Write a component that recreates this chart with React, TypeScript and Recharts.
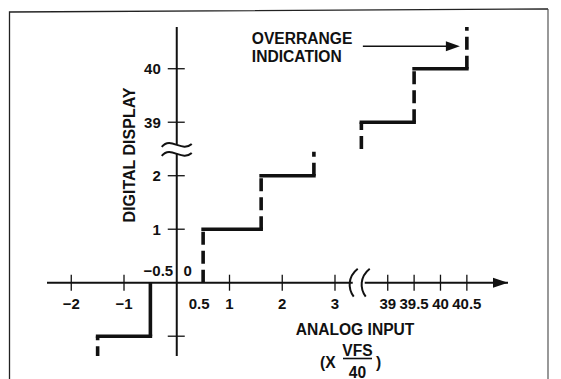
import React from "react";
import { ComposedChart, Line, XAxis, YAxis, ReferenceLine, ReferenceDot } from "recharts";

// axis ticks (real values)
const xTicks = [-2, -1, 1, 2, 3, 39, 39.5, 40, 40.5];
const yTicks = [1, 2, 39, 40];
const yBlankTicks = [-1];

// staircase: solid treads, dashed risers
const treads = [
  { y: -1, from: -1.5, to: -0.5 },
  { y: 1, from: 0.5, to: 1.6 },
  { y: 2, from: 1.6, to: 2.6 },
  { y: 39, from: 38.5, to: 39.5 },
  { y: 40, from: 39.5, to: 40.5 },
];
const solidRisers = [{ x: -0.5, from: -1, to: 0 }];
const risers = [
  { x: -1.5, from: -1, to: -1.37 },
  { x: 0.5, from: 0, to: 1 },
  { x: 1.6, from: 1, to: 2 },
  { x: 2.6, from: 2, to: 2.45 },
  { x: 38.5, from: 38.5, to: 39 },
  { x: 39.5, from: 39, to: 40 },
  { x: 40.5, from: 40, to: 40.8 },
];

// both axes are broken: values above 38 are shifted down next to the small ones
const sx = (v: number) => (v >= 38 ? v - 35 : v);
const sy = (v: number) => (v >= 38 ? v - 36 : v);
const X_DOMAIN: [number, number] = [-2.46, 6.28];
const Y_DOMAIN: [number, number] = [-1.37, 4.78];
const X_BREAK = 3.45;
const Y_BREAK = 2.5;

const fmt = (v: number) => (v < 0 ? `\u2212${Math.abs(v)}` : String(v));

const font = { fontFamily: "'Liberation Sans', Arial, sans-serif", fontWeight: 700, fill: "#111" };
const INK = "#111";

const XTick = ({ cx, cy, text }: any) => (
  <g>
    <line x1={cx} x2={cx} y1={cy - 8} y2={cy + 8} stroke={INK} strokeWidth={1.3} />
    {text && (
      <text x={cx} y={cy + 26} textAnchor="middle" fontSize={15} {...font}>
        {text}
      </text>
    )}
  </g>
);

const YTick = ({ cx, cy, text }: any) => (
  <g>
    <line x1={cx - 9} x2={cx + 8} y1={cy} y2={cy} stroke={INK} strokeWidth={1.3} />
    {text && (
      <text x={cx - 16} y={cy + 5.5} textAnchor="end" fontSize={15} {...font}>
        {text}
      </text>
    )}
  </g>
);

const YBreak = ({ cx, cy }: any) => (
  <g fill="none" stroke={INK} strokeWidth={2}>
    <rect x={cx - 4} y={cy - 4.5} width={8} height={9} fill="#fff" stroke="none" />
    <path d={`M${cx - 15} ${cy - 2} C${cx - 6} ${cy - 13} ${cx + 5} ${cy + 4} ${cx + 15} ${cy - 5}`} />
    <path d={`M${cx - 15} ${cy + 7} C${cx - 6} ${cy - 4} ${cx + 5} ${cy + 13} ${cx + 15} ${cy + 4}`} />
  </g>
);

const XBreak = ({ cx, cy }: any) => (
  <g fill="none" stroke={INK} strokeWidth={2}>
    <rect x={cx - 6} y={cy - 3} width={12} height={6} fill="#fff" stroke="none" />
    <path d={`M${cx - 1} ${cy - 14} C${cx - 11} ${cy - 6} ${cx - 11} ${cy + 6} ${cx - 5} ${cy + 14}`} />
    <path d={`M${cx + 11} ${cy - 14} C${cx + 1} ${cy - 6} ${cx + 1} ${cy + 6} ${cx + 7} ${cy + 14}`} />
  </g>
);

const AxisArrow = ({ cx, cy }: any) => (
  <polygon points={`${cx},${cy} ${cx - 15},${cy - 5} ${cx - 15},${cy + 5}`} fill={INK} />
);

const Overrange = ({ cx, cy }: any) => (
  <g>
    <line x1={cx - 104} x2={cx - 20} y1={cy} y2={cy} stroke={INK} strokeWidth={1.3} />
    <polygon points={`${cx - 7},${cy} ${cx - 21},${cy - 5} ${cx - 21},${cy + 5}`} fill={INK} />
    <text x={cx - 215} y={cy - 2} fontSize={15.6} {...font}>OVERRANGE</text>
    <text x={cx - 215} y={cy + 16} fontSize={15.6} {...font}>INDICATION</text>
  </g>
);

const TextAt = ({ cx, cy, text, dx, dy, anchor }: any) => (
  <text x={cx + dx} y={cy + dy} textAnchor={anchor} fontSize={15} {...font}>
    {text}
  </text>
);

const seg = (x1: number, y1: number, x2: number, y2: number) => [
  { x: sx(x1), y: sy(y1) },
  { x: sx(x2), y: sy(y2) },
];

export default function App() {
  return (
    <div style={{ position: "fixed", left: 0, top: 0, width: 561, height: 379, background: "#fff" }}>
      <ComposedChart width={561} height={379} margin={{ top: 27, right: 53, bottom: 23, left: 47 }}>
        <XAxis type="number" dataKey="x" domain={X_DOMAIN} allowDataOverflow hide />
        <YAxis type="number" dataKey="y" domain={Y_DOMAIN} allowDataOverflow hide />
        <ReferenceLine x={0} stroke={INK} strokeWidth={2} />
        <ReferenceLine y={0} stroke={INK} strokeWidth={2} />

        {treads.map((t, i) => (
          <Line
            key={`t${i}`}
            data={seg(t.from, t.y, t.to, t.y)}
            dataKey="y"
            stroke={INK}
            strokeWidth={3.6}
            strokeLinecap="square"
            dot={false}
            activeDot={false}
            isAnimationActive={false}
          />
        ))}
        {solidRisers.map((r, i) => (
          <Line
            key={`s${i}`}
            data={seg(r.x, r.from, r.x, r.to)}
            dataKey="y"
            stroke={INK}
            strokeWidth={3.6}
            dot={false}
            activeDot={false}
            isAnimationActive={false}
          />
        ))}
        {risers.map((r, i) => (
          <Line
            key={`r${i}`}
            data={seg(r.x, r.from, r.x, r.to)}
            dataKey="y"
            stroke={INK}
            strokeWidth={3.6}
            strokeDasharray={i === 0 ? "4 6 13 6" : "13 6"}
            dot={false}
            activeDot={false}
            isAnimationActive={false}
          />
        ))}

        {xTicks.map((v) => (
          <ReferenceDot key={`xt${v}`} x={sx(v)} y={0} r={0} shape={(p: any) => <XTick {...p} text={fmt(v)} />} />
        ))}
        {yTicks.map((v) => (
          <ReferenceDot key={`yt${v}`} x={0} y={sy(v)} r={0} shape={(p: any) => <YTick {...p} text={fmt(v)} />} />
        ))}
        {yBlankTicks.map((v) => (
          <ReferenceDot key={`yb${v}`} x={0} y={sy(v)} r={0} shape={(p: any) => <YTick {...p} />} />
        ))}

        <ReferenceDot x={0.5} y={0} r={0} shape={(p: any) => <TextAt {...p} text="0.5" dx={-4} dy={26} anchor="middle" />} />
        <ReferenceDot x={-0.5} y={0} r={0} shape={(p: any) => <TextAt {...p} text={fmt(-0.5)} dx={8} dy={-6.5} anchor="middle" />} />
        <ReferenceDot x={0} y={0} r={0} shape={(p: any) => <TextAt {...p} text="0" dx={11} dy={-6.5} anchor="middle" />} />

        <ReferenceDot x={X_BREAK} y={0} r={0} shape={(p: any) => <XBreak {...p} />} />
        <ReferenceDot x={0} y={Y_BREAK} r={0} shape={(p: any) => <YBreak {...p} />} />
        <ReferenceDot x={X_DOMAIN[1]} y={0} r={0} shape={(p: any) => <AxisArrow {...p} />} />
        <ReferenceDot x={sx(40.5)} y={sy(40.42)} r={0} shape={(p: any) => <Overrange {...p} />} />
      </ComposedChart>

      <svg width={561} height={379} style={{ position: "absolute", left: 0, top: 0, pointerEvents: "none" }}>
        <path d="M9.5 379 L9.5 12 L548 9" fill="none" stroke="#222" strokeWidth={1.3} />
        <line x1={548} y1={9} x2={548} y2={379} stroke="#444" strokeWidth={1.1} />
        <text x={129.5} y={160.7} textAnchor="middle" fontSize={16} transform="rotate(-90 129.5 155)" {...font}>
          DIGITAL DISPLAY
        </text>
        <text x={355} y={334.5} textAnchor="middle" fontSize={15.6} {...font}>ANALOG INPUT</text>
        <text x={320} y={368} fontSize={15.6} {...font}>(X</text>
        <text x={357.5} y={356} textAnchor="middle" fontSize={15.6} {...font}>VFS</text>
        <line x1={343} x2={372} y1={358.5} y2={358.5} stroke={INK} strokeWidth={1.6} />
        <text x={357.5} y={377.5} textAnchor="middle" fontSize={15.6} {...font}>40</text>
        <text x={376} y={368} fontSize={15.6} {...font}>)</text>
      </svg>
    </div>
  );
}
